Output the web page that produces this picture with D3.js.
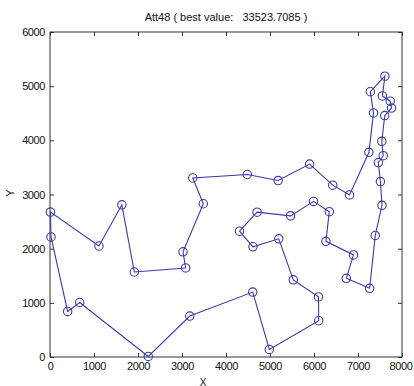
<!DOCTYPE html>
<html><head><meta charset="utf-8">
<script src="https://cdn.jsdelivr.net/npm/d3@7"></script>
<style>
html,body{margin:0;padding:0;background:#fff;}
svg{display:block;}
text{font-family:"Liberation Sans",Arial,sans-serif;fill:#111;}
</style></head>
<body>
<svg id="chart" width="414" height="386"></svg>
<script>
// att48 city coordinates (city ids 1..48)
const cityIds = [1,2,3,4,5,6,7,8,9,10,11,12,13,14,15,16,17,18,19,20,21,22,23,24,25,26,27,28,29,30,31,32,33,34,35,36,37,38,39,40,41,42,43,44,45,46,47,48];
const cityX = [6734,2233,5530,401,3082,7608,7573,7265,6898,1112,5468,5989,4706,4612,6347,6107,7611,7462,7732,5900,4483,6101,5199,1633,4307,675,7555,7541,3177,7352,7545,3245,6426,4608,23,7248,7762,7392,3484,6271,4985,1916,7280,7509,10,6807,5185,3023];
const cityY = [1453,10,1424,841,1644,4458,3716,1268,1885,2049,2606,2873,2674,2035,2683,669,5184,3590,4723,3561,3369,1110,2182,2809,2322,1006,4819,3981,756,4506,2801,3305,3173,1198,2216,3779,4595,2244,2829,2135,140,1569,4899,3239,2676,2993,3258,1942];
// best tour order (closed)
const tour = [1,8,38,31,44,18,7,28,6,37,19,27,17,43,30,36,46,33,20,47,21,32,39,48,5,42,24,10,45,35,4,26,2,29,34,41,16,22,3,23,14,25,13,11,12,15,40,9,1];
const xTicks = [0,1000,2000,3000,4000,5000,6000,7000,8000];
const yTicks = [0,1000,2000,3000,4000,5000,6000];
const titleText = "Att48 ( best value:   33523.7085 )";

const svg = d3.select("#chart");
const L = 50, R = 402, T = 32, B = 357;
const x = d3.scaleLinear().domain([0,8000]).range([L,R]);
const y = d3.scaleLinear().domain([0,6000]).range([B,T]);
const axisColor = "#333";
const blue = "#3a3aac";

// frame
svg.append("rect").attr("x",L).attr("y",T).attr("width",R-L).attr("height",B-T)
  .attr("fill","none").attr("stroke",axisColor).attr("stroke-width",1);

function styleAxis(g){
  g.select(".domain").remove();
  g.selectAll(".tick line").attr("stroke",axisColor);
  g.selectAll("text").style("font-size","11px").style("letter-spacing","-0.4px").attr("fill","#111");
}
const gx = svg.append("g").attr("transform",`translate(0,${B})`)
  .call(d3.axisBottom(x).tickValues(xTicks).tickSizeInner(-4).tickSizeOuter(0).tickPadding(5).tickFormat(d3.format("d")))
  .call(styleAxis);
gx.selectAll(".tick text").filter(d=>d===8000).attr("dx",-1.5);
svg.append("g").attr("transform",`translate(${L},0)`)
  .call(d3.axisLeft(y).tickValues(yTicks).tickSizeInner(-4).tickSizeOuter(0).tickPadding(5).tickFormat(d3.format("d")))
  .call(styleAxis);
svg.append("g").attr("transform",`translate(0,${T})`)
  .call(d3.axisTop(x).tickValues(xTicks).tickSizeInner(-4).tickSizeOuter(0).tickFormat(""))
  .call(styleAxis);
svg.append("g").attr("transform",`translate(${R},0)`)
  .call(d3.axisRight(y).tickValues(yTicks).tickSizeInner(-4).tickSizeOuter(0).tickFormat(""))
  .call(styleAxis);

// title & labels
svg.append("text").attr("x",226).attr("y",20.5).attr("text-anchor","middle")
  .style("font-size","11px").style("white-space","pre").attr("xml:space","preserve")
  .text(titleText);
svg.append("text").attr("x",(L+R)/2 - 23).attr("y",385.5).attr("text-anchor","middle")
  .style("font-size","10px").text("X");
svg.append("text").attr("transform",`translate(14,193) rotate(-90)`).attr("text-anchor","middle")
  .style("font-size","11px").text("Y");

const cities = cityIds.map((id,i)=>({id, x:cityX[i], y:cityY[i]}));
const byId = new Map(cities.map(c=>[c.id,c]));
const path = tour.map(id=>byId.get(id));

svg.append("path").datum(path)
  .attr("d", d3.line().x(d=>x(d.x)).y(d=>y(d.y)))
  .attr("fill","none").attr("stroke",blue).attr("stroke-width",1.1);

svg.append("g").selectAll("circle").data(cities).join("circle")
  .attr("cx",d=>x(d.x)).attr("cy",d=>y(d.y)).attr("r",4.2)
  .attr("fill","none").attr("stroke",blue).attr("stroke-width",1.1);
</script>
</body></html>
